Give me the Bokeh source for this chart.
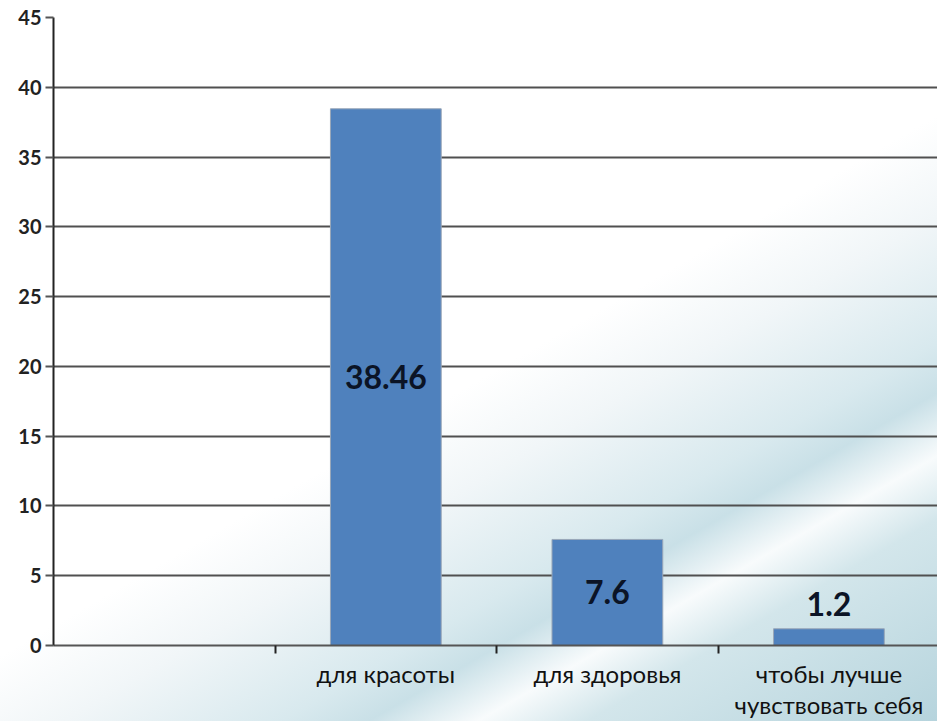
from bokeh.plotting import figure
from bokeh.models import FixedTicker, Range1d, ColumnDataSource
from bokeh.layouts import column
from bokeh.core.properties import value
from bokeh.embed import file_html
from bokeh.resources import INLINE

categories = ["", "для красоты", "для здоровья", "чтобы лучше\nчувствовать себя"]
values = [0.0, 38.46, 7.6, 1.2]
value_labels = ["", "38.46", "7.6", "1.2"]
y_ticks = [0, 5, 10, 15, 20, 25, 30, 35, 40, 45]

xs = [i + 0.5 for i in range(len(categories))]
bar_idx = [i for i, v in enumerate(values) if v > 0]
bars = ColumnDataSource(dict(x=[xs[i] for i in bar_idx], top=[values[i] for i in bar_idx]))

lab_y = []
lab_off = []
for i in bar_idx:
    v = values[i]
    if v > 5:
        lab_y.append(v / 2)
        lab_off.append(0)
    else:
        lab_y.append(v)
        lab_off.append(-25)
labels = ColumnDataSource(dict(x=[xs[i] for i in bar_idx], y=lab_y, t=[value_labels[i] for i in bar_idx], off=lab_off))
cat_src = ColumnDataSource(dict(x=xs, y=[1] * len(xs), t=categories))

xr = Range1d(0, 3.99)

p = figure(width=937, height=658, output_backend="svg", toolbar_location=None,
           x_range=xr, y_range=Range1d(0, 45))
p.min_border_left = 53
p.min_border_right = 0
p.min_border_top = 17
p.min_border_bottom = 13
p.outline_line_color = None
p.background_fill_alpha = 0
p.border_fill_alpha = 0

p.vbar(x="x", top="top", width=0.5, source=bars, fill_color="#4f81bd",
       line_color="#9aa7b8", line_width=1)

p.text(x="x", y="y", text="t", y_offset="off", source=labels,
       text_align="center", text_baseline="middle",
       text_font=value("Lato"), text_font_style="bold", text_font_size="32px",
       text_color="#0b1426")

# y axis
p.yaxis.ticker = FixedTicker(ticks=y_ticks)
p.yaxis.major_tick_out = 8
p.yaxis.major_tick_in = 0
p.yaxis.minor_tick_line_color = None
p.yaxis.axis_line_color = "#222222"
p.yaxis.axis_line_width = 2
p.yaxis.major_tick_line_color = "#555555"
p.yaxis.major_tick_line_width = 2
p.yaxis.major_label_text_font = "Lato"
p.yaxis.major_label_text_font_style = "bold"
p.yaxis.major_label_text_font_size = "20px"
p.yaxis.major_label_text_color = "#222222"
p.yaxis.major_label_standoff = 4

# x axis: tick marks at category boundaries; names drawn in the strip below
p.xaxis.ticker = FixedTicker(ticks=xs, minor_ticks=[1, 2, 3])
p.xaxis.major_label_overrides = {x: "" for x in xs}
p.xaxis.major_label_text_font_size = "1px"
p.xaxis.major_label_standoff = 0
p.xaxis.major_tick_out = 0
p.xaxis.major_tick_in = 0
p.xaxis.minor_tick_out = 8
p.xaxis.minor_tick_in = 0
p.xaxis.minor_tick_line_color = "#222222"
p.xaxis.minor_tick_line_width = 2
p.xaxis.axis_line_color = "#555555"
p.xaxis.axis_line_width = 2

p.xgrid.grid_line_color = None
p.ygrid.ticker = FixedTicker(ticks=y_ticks)
p.ygrid.grid_line_color = "#505050"
p.ygrid.grid_line_width = 2

# category names strip
q = figure(width=937, height=63, output_backend="svg", toolbar_location=None,
           x_range=xr, y_range=Range1d(0, 1))
q.min_border_left = 53
q.min_border_right = 0
q.min_border_top = 0
q.min_border_bottom = 0
q.axis.visible = False
q.grid.grid_line_color = None
q.outline_line_color = None
q.background_fill_alpha = 0
q.border_fill_alpha = 0
q.text(x="x", y="y", text="t", source=cat_src, y_offset=0,
       text_align="center", text_baseline="top",
       text_font=value("Lato"), text_font_size="24px",
       text_line_height=1.1, text_color="#111111")

layout = column(p, q, spacing=0)
layout.styles = {"background": "linear-gradient(150deg, #ffffff 0%, #ffffff 52%, #f1f6f8 60%, #d8e9ee 70%, #c9e0e7 74%, #f8fbfc 79%, #d3e6eb 84%, #b6d4dd 100%)"}

open("out.html", "w").write(file_html(layout, INLINE))
